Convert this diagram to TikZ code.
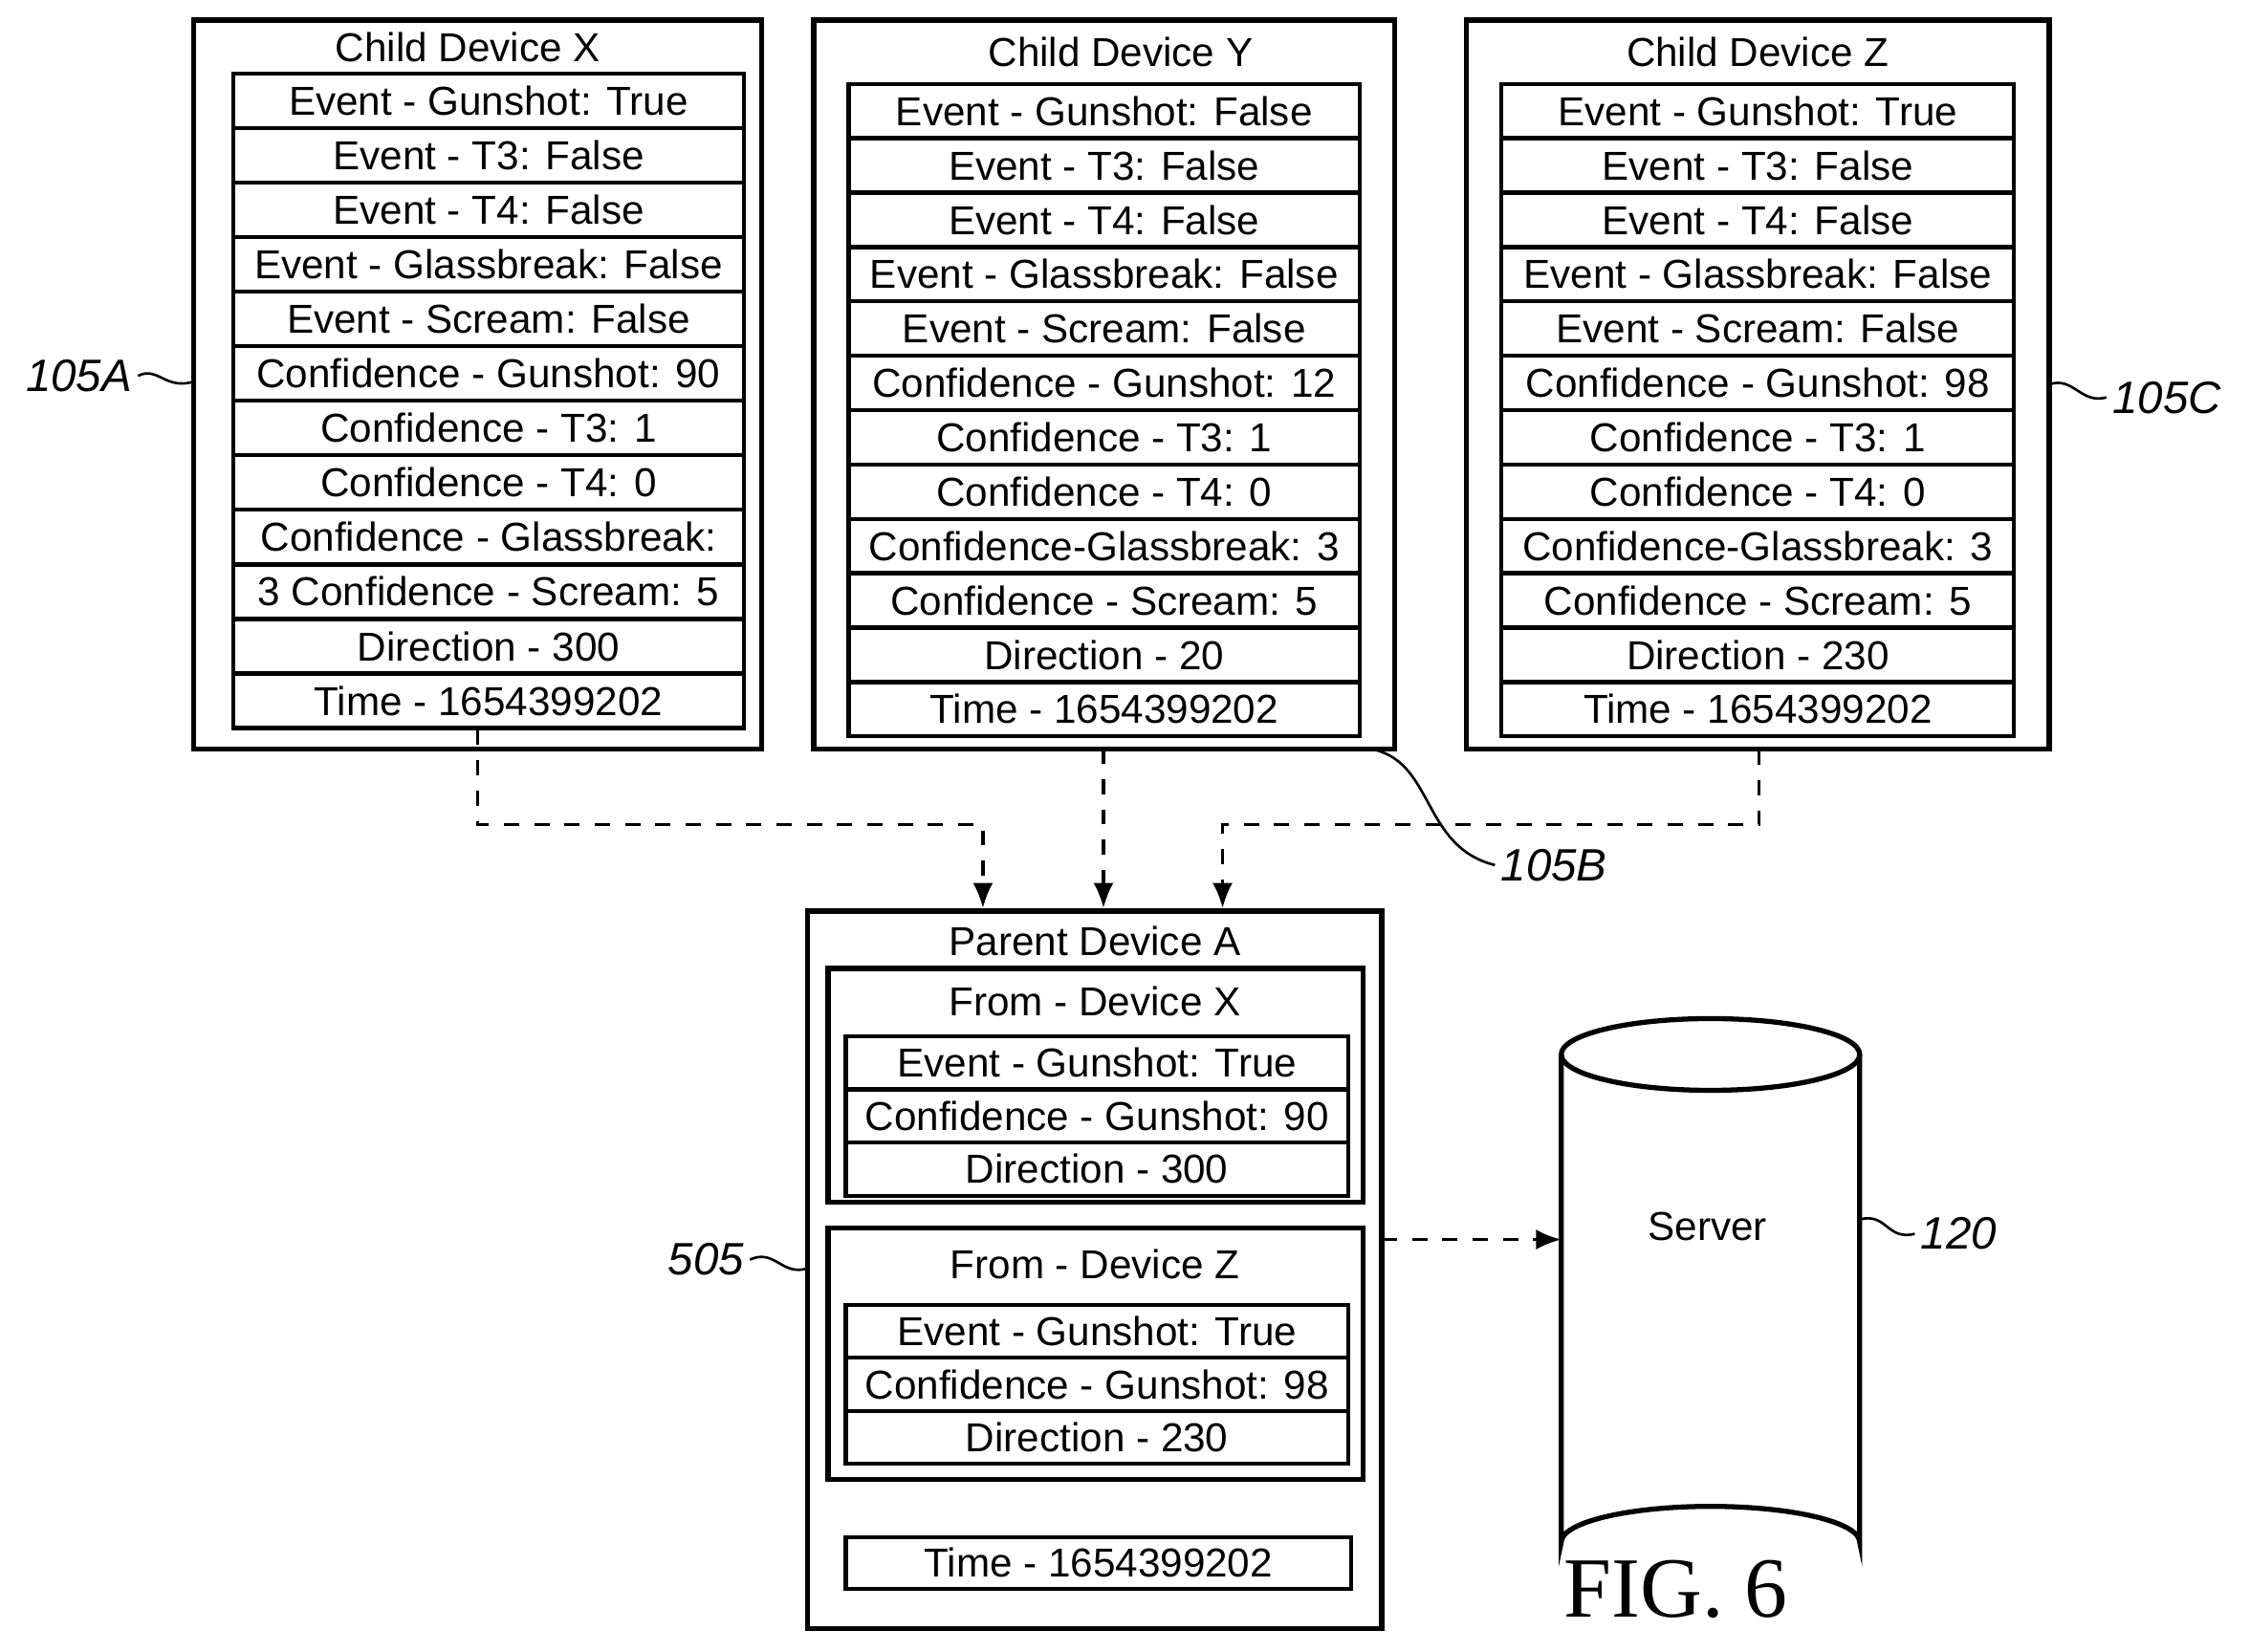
\documentclass[tikz,border=0pt]{standalone}
\usepackage{fontspec}
\setmainfont{Liberation Sans}
\newfontfamily\figfont{Liberation Serif}
\usetikzlibrary{arrows.meta,shapes.geometric}
\begin{document}
\begin{tikzpicture}[x=0.01cm,y=-0.01cm,
  outer/.style={draw,line width=1pt},
  row/.style={draw,line width=0.8pt,minimum height=0.38cm,inner sep=0pt,anchor=north west,font=\fontsize{8}{9}\selectfont},
  ttl/.style={font=\fontsize{8}{9}\selectfont,inner sep=0pt},
  lbl/.style={font=\fontsize{9}{10}\selectfont\itshape,inner sep=1pt},
  conn/.style={dashed,line width=0.6pt,-{Latex[length=5pt,width=4pt]}},
  sq/.style={line width=0.5pt}]
\useasboundingbox (0,0) rectangle (1568,1151);
% Child X
\draw[outer] (135,14) rectangle (531,522);
\node[ttl] (tx) at (326,33) {Child Device X};
\foreach \t [count=\i from 0] in {Event - Gunshot: True,Event - T3: False,Event - T4: False,Event - Glassbreak: False,Event - Scream: False,Confidence - Gunshot: 90,Confidence - T3: 1,Confidence - T4: 0,Confidence - Glassbreak:,3 Confidence - Scream: 5,Direction - 300,Time - 1654399202}
  \node[row,minimum width=3.56cm] (x\i) at (161,50+38*\i) {\t};
% Child Y
\draw[outer] (567,14) rectangle (972,522);
\node[ttl] (ty) at (781,36) {Child Device Y};
\foreach \t [count=\i from 0] in {Event - Gunshot: False,Event - T3: False,Event - T4: False,Event - Glassbreak: False,Event - Scream: False,Confidence - Gunshot: 12,Confidence - T3: 1,Confidence - T4: 0,Confidence-Glassbreak: 3,Confidence - Scream: 5,Direction - 20,Time - 1654399202}
  \node[row,minimum width=3.56cm] (y\i) at (590,57+37.9*\i) {\t};
% Child Z
\draw[outer] (1022,14) rectangle (1428,522);
\node[ttl] (tz) at (1225,36) {Child Device Z};
\foreach \t [count=\i from 0] in {Event - Gunshot: True,Event - T3: False,Event - T4: False,Event - Glassbreak: False,Event - Scream: False,Confidence - Gunshot: 98,Confidence - T3: 1,Confidence - T4: 0,Confidence-Glassbreak: 3,Confidence - Scream: 5,Direction - 230,Time - 1654399202}
  \node[row,minimum width=3.57cm] (z\i) at (1045,57+37.9*\i) {\t};
% labels
\node[lbl] (l105a) at (55,262) {105A};
\draw[sq] (l105a.east) .. controls (110,255) and (115,272) .. (135,266);
\node[lbl] (l105c) at (1510,277) {105C};
\draw[sq] (1428,268) .. controls (1445,262) and (1450,282) .. (l105c.west);
\node[lbl] (l105b) at (1083,603) {105B};
\draw[sq] (955,522) .. controls (1000,530) and (990,590) .. (l105b.west);
% Parent
\draw[outer] (563,635) rectangle (963,1135);
\node[ttl] (tp) at (763,656) {Parent Device A};
\draw[outer] (577,675) rectangle (950,838);
\node[ttl] (f1) at (763,698) {From - Device X};
\foreach \t [count=\i from 0] in {Event - Gunshot: True,Confidence - Gunshot: 90,Direction - 300}
  \node[row,minimum width=3.5cm,minimum height=0.37cm] (p\i) at (588,721+37*\i) {\t};
\draw[outer] (577,856) rectangle (950,1031);
\node[ttl] (f2) at (763,881) {From - Device Z};
\foreach \t [count=\i from 0] in {Event - Gunshot: True,Confidence - Gunshot: 98,Direction - 230}
  \node[row,minimum width=3.5cm,minimum height=0.37cm] (q\i) at (588,908+37*\i) {\t};
\node[row,minimum width=3.52cm,minimum height=0.36cm] (pt) at (588,1070) {Time - 1654399202};
\node[lbl] (l505) at (492,878) {505};
\draw[sq] (l505.east) .. controls (540,870) and (545,890) .. (563,884);
% connectors
\coordinate (a1) at (333,575); \coordinate (a2) at (685,575);
\coordinate (c1) at (1226,575); \coordinate (c2) at (852,575);
\draw[conn] (x11.south -| a1) -- (a1) -- (a2) -- (685,633);
\draw[conn] (769,522) -- (769,633);
\draw[conn] (z11.south -| c1) ++(0,8) -- (c1) -- (c2) -- (852,633);
% server
\draw[line width=1pt] (1088,735) -- (1088,1075) arc[start angle=180,end angle=360,x radius=104,y radius=25] -- (1296,735);
\draw[line width=1pt] (1192,735) ellipse[x radius=104,y radius=25];
\node[ttl] (srv) at (1190,855) {Server};
\draw[conn] (963,864) -- (1088,864);
\node[lbl] (l120) at (1365,860) {120};
\draw[sq] (1296,850) .. controls (1315,845) and (1315,865) .. (l120.west);
\node[font=\figfont\fontsize{17}{18}\selectfont] (fig) at (1168,1108) {FIG. 6};
\end{tikzpicture}
\end{document}
